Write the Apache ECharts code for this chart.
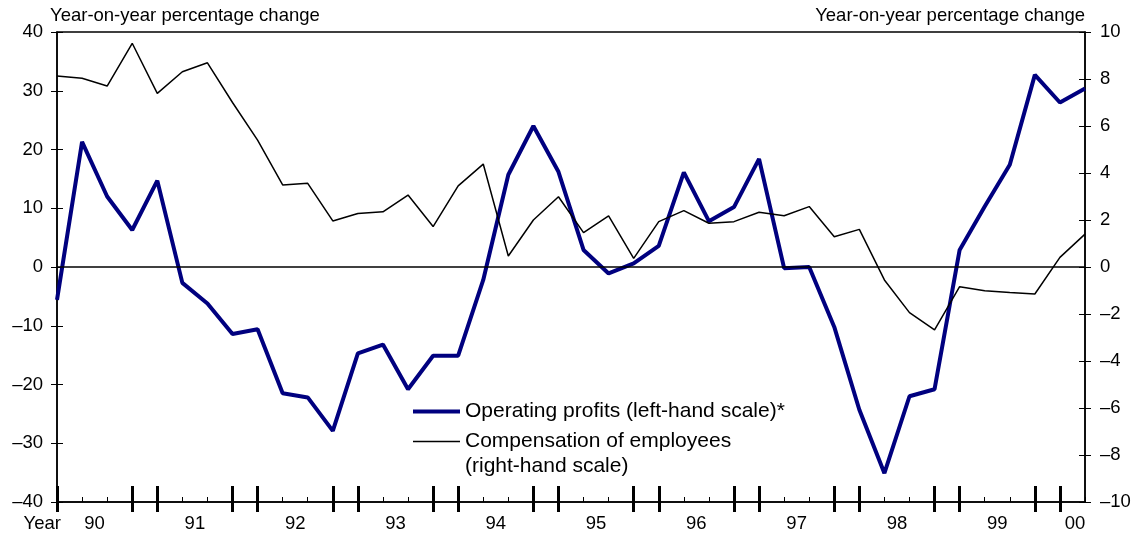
<!DOCTYPE html>
<html>
<head>
<meta charset="utf-8">
<title>Operating profits and compensation of employees</title>
<script src="https://cdn.jsdelivr.net/npm/echarts@6/dist/echarts.min.js"></script>
<style>
  html, body { margin: 0; padding: 0; background: #fff; }
  #chart { width: 1145px; height: 540px; }
</style>
</head>
<body>
<div id="chart"></div>
<script>
// quarterly points, 1990 Q1 .. 2000 Q2
var quarters = [
	'90Q1','90Q2','90Q3','90Q4','91Q1','91Q2','91Q3','91Q4',
	'92Q1','92Q2','92Q3','92Q4','93Q1','93Q2','93Q3','93Q4',
	'94Q1','94Q2','94Q3','94Q4','95Q1','95Q2','95Q3','95Q4',
	'96Q1','96Q2','96Q3','96Q4','97Q1','97Q2','97Q3','97Q4',
	'98Q1','98Q2','98Q3','98Q4','99Q1','99Q2','99Q3','99Q4',
	'00Q1','00Q2'
];
var yearLabels = ['90','91','92','93','94','95','96','97','98','99','00'];

// left-hand scale
var profits = [
	-5.6, 21.3, 12.0, 6.3, 14.7, -2.7, -6.2, -11.4,
	-10.6, -21.5, -22.2, -27.9, -14.7, -13.2, -20.8, -15.1,
	-15.1, -2.2, 15.7, 24.0, 16.2, 2.9, -1.1, 0.6,
	3.6, 16.1, 7.8, 10.2, 18.4, -0.2, 0.0, -10.2,
	-24.3, -35.1, -22.0, -20.8, 2.9, 10.3, 17.4, 32.7,
	28.0, 30.4
];
// right-hand scale
var compensation = [
	8.13, 8.03, 7.70, 9.52, 7.39, 8.31, 8.69, 7.00,
	5.40, 3.49, 3.56, 1.96, 2.28, 2.35, 3.06, 1.72,
	3.45, 4.38, 0.47, 2.00, 2.99, 1.46, 2.18, 0.37,
	1.93, 2.40, 1.86, 1.93, 2.33, 2.18, 2.57, 1.29,
	1.60, -0.55, -1.94, -2.68, -0.84, -1.01, -1.09, -1.15,
	0.41, 1.40
];

var FONT = "'Liberation Sans', Arial, sans-serif";

function minus(v) {
	return String(v).replace('-', '\u2013');
}

// tall ticks at Q4 / Q1 pairs
function yearTick(i) {
	return i <= 40 && (i % 4 == 0 || i % 4 == 3);
}

var labelPos = yearLabels.map(function (y, k) {
	return Math.min(1.5 + 4 * k, 40.6);
});

var baseX = {
	type: 'category',
	data: quarters,
	boundaryGap: false,
	position: 'bottom',
	axisLabel: { show: false },
	splitLine: { show: false }
};

var chart = echarts.init(document.getElementById('chart'));
chart.setOption({
	animation: false,
	grid: {
		left: 57, right: 60, top: 32, bottom: 38,
		containLabel: false,
		show: true,
		borderColor: '#000',
		borderWidth: 1.5
	},
	legend: [{
		left: 408, top: 396,
		orient: 'vertical',
		icon: 'rect',
		itemWidth: 47, itemHeight: 4,
		textStyle: { fontFamily: FONT, fontSize: 21, color: '#000' },
		data: ['Operating profits (left-hand scale)*']
	}, {
		left: 408, top: 399,
		orient: 'vertical',
		icon: 'rect',
		itemWidth: 47, itemHeight: 1.5,
		formatter: function (name) {
			// blank first line keeps the key level with the first text line
			return '\nCompensation of employees\n(right-hand scale)';
		},
		textStyle: {
			fontFamily: FONT, fontSize: 21, color: '#000',
			lineHeight: 25
		},
		data: ['Compensation of employees (right-hand scale)']
	}],
	xAxis: [
		echarts.util.merge({
			axisLine: { onZero: false, lineStyle: { color: '#000', width: 1.5 } },
			axisTick: { inside: true, length: 5, interval: 0, lineStyle: { color: '#000', width: 1 } }
		}, baseX),
		echarts.util.merge({
			axisLine: { show: false, onZero: false },
			axisTick: { inside: true, length: 16, interval: yearTick, lineStyle: { color: '#000', width: 3 } }
		}, baseX),
		echarts.util.merge({
			axisLine: { show: false, onZero: false },
			axisTick: { inside: false, length: 10, interval: yearTick, lineStyle: { color: '#000', width: 3 } }
		}, baseX),
		{
			type: 'value',
			position: 'bottom',
			min: 0, max: 41,
			axisLine: { show: false, onZero: false },
			axisTick: { show: false },
			splitLine: { show: false },
			name: 'Year',
			nameLocation: 'start',
			nameGap: -4,
			nameTextStyle: {
				fontFamily: FONT, fontSize: 18.5, color: '#000',
				verticalAlign: 'top', padding: [12, 0, 0, 0]
			},
			axisLabel: {
				customValues: labelPos,
				margin: 12,
				fontFamily: FONT, fontSize: 18.5, color: '#000',
				formatter: function (v) {
					return yearLabels[Math.round((v - 1.5) / 4)];
				}
			}
		}
	],
	yAxis: [{
		type: 'value',
		position: 'left',
		min: -40, max: 40, interval: 10,
		name: 'Year-on-year percentage change',
		nameLocation: 'end',
		nameGap: 16,
		nameTextStyle: {
			fontFamily: FONT, fontSize: 18.5, color: '#000',
			align: 'left', verticalAlign: 'middle',
			padding: [0, 0, 0, -7]
		},
		axisLine: { show: true, onZero: false, lineStyle: { color: '#000', width: 1.5 } },
		axisTick: { length: 6, lineStyle: { color: '#000', width: 1 } },
		splitLine: { show: false },
		axisLabel: {
			margin: 14, fontFamily: FONT, fontSize: 18.5, color: '#000',
			formatter: minus
		}
	}, {
		type: 'value',
		position: 'right',
		min: -10, max: 10, interval: 2,
		name: 'Year-on-year percentage change',
		nameLocation: 'end',
		nameGap: 16,
		nameTextStyle: {
			fontFamily: FONT, fontSize: 18.5, color: '#000',
			align: 'right', verticalAlign: 'middle'
		},
		axisLine: { show: true, onZero: false, lineStyle: { color: '#000', width: 1.5 } },
		axisTick: { length: 6, lineStyle: { color: '#000', width: 1 } },
		splitLine: { show: false },
		axisLabel: {
			margin: 15, fontFamily: FONT, fontSize: 18.5, color: '#000',
			formatter: minus
		}
	}, {
		// inner half of the cross ticks
		type: 'value',
		position: 'left',
		min: -40, max: 40, interval: 10,
		axisLine: { show: false, onZero: false },
		axisTick: { inside: true, length: 6, lineStyle: { color: '#000', width: 1 } },
		axisLabel: { show: false },
		splitLine: { show: false }
	}, {
		type: 'value',
		position: 'right',
		min: -10, max: 10, interval: 2,
		axisLine: { show: false, onZero: false },
		axisTick: { inside: true, length: 6, lineStyle: { color: '#000', width: 1 } },
		axisLabel: { show: false },
		splitLine: { show: false }
	}],
	series: [{
		name: 'Operating profits (left-hand scale)*',
		type: 'line',
		xAxisIndex: 0,
		yAxisIndex: 0,
		data: profits,
		symbol: 'none',
		lineStyle: { color: '#00007f', width: 4 },
		itemStyle: { color: '#00007f' },
		z: 2,
		markLine: {
			silent: true,
			symbol: 'none',
			label: { show: false },
			lineStyle: { color: '#000', width: 1.5, type: 'solid' },
			data: [{ yAxis: 0 }]
		}
	}, {
		name: 'Compensation of employees (right-hand scale)',
		type: 'line',
		xAxisIndex: 0,
		yAxisIndex: 1,
		data: compensation,
		symbol: 'none',
		lineStyle: { color: '#000', width: 1.5 },
		itemStyle: { color: '#000' },
		z: 3
	}]
});
</script>
</body>
</html>
